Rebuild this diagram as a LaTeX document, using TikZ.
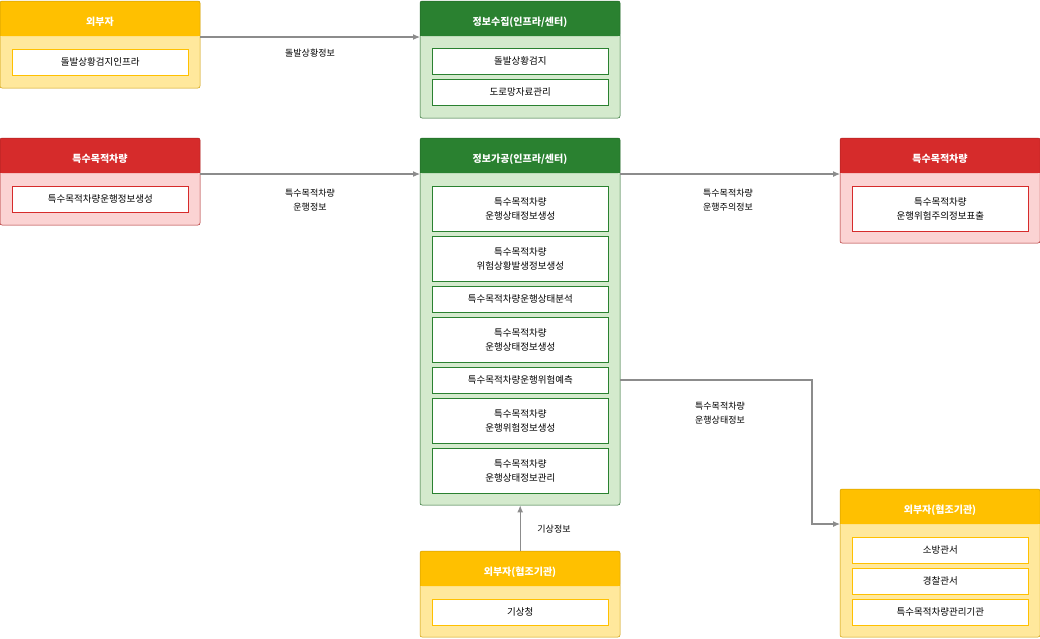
\documentclass[tikz,border=0pt]{standalone}
\usepackage{fontspec}
\setmainfont{Noto Sans CJK KR}
\usetikzlibrary{positioning,arrows.meta}
\definecolor{hdyellow}{HTML}{FFC000}
\definecolor{bdyellow}{HTML}{FFE89C}
\definecolor{hdgreen}{HTML}{2A8130}
\definecolor{bdgreen}{HTML}{D4EACD}
\definecolor{hdred}{HTML}{D62B2B}
\definecolor{bdred}{HTML}{FBD3D3}
\definecolor{linegray}{HTML}{8C8C8C}
\tikzset{
  panel/.style={draw=#1!80!black, line width=0.6pt, rounded corners=2pt, anchor=north west, inner sep=0pt},
  head_cust/.style={anchor=north, text=white, font=\bfseries\fontsize{10}{12}\selectfont},
  item_cust/.style={draw=#1, fill=white, line width=0.6pt, anchor=north west, minimum width=176pt, align=center, inner sep=0pt, font=\fontsize{9.5}{14}\selectfont},
  connect arrow/.style={-{Latex[length=7,width=6]}, linegray, line width=1.1pt},
  lbl/.style={font=\fontsize{9}{14}\selectfont, align=center}
}
% one panel: name, x, y(top), height, header colour, body colour, title
\newcommand{\panelbox}[7]{%
  \fill[#6, rounded corners=2pt] (#2,-#3) rectangle ++(200,-#4);
  \fill[#5, rounded corners=2pt] (#2,-#3) rectangle ++(200,-35);
  \fill[#5] (#2,-#3-20) rectangle ++(200,-15);
  \draw[#5!80!black, rounded corners=2pt, line width=0.5pt] (#2,-#3) rectangle ++(200,-#4);
  \node[minimum width=200pt, minimum height=#4 pt, anchor=north west, inner sep=0pt] (#1) at (#2,-#3) {};
  \node[head_cust, text height=8pt] at (#2+100,-#3-13) {#7};
}
\begin{document}
\begin{tikzpicture}[x=1pt,y=1pt]
\useasboundingbox (0,0) rectangle (1040,-638);

% panels
\panelbox{ext1}{0}{1}{87}{hdyellow}{bdyellow}{외부자}
\panelbox{coll}{420}{1}{117}{hdgreen}{bdgreen}{정보수집(인프라/센터)}
\panelbox{veh1}{0}{138}{87}{hdred}{bdred}{특수목적차량}
\panelbox{proc}{420}{138}{367}{hdgreen}{bdgreen}{정보가공(인프라/센터)}
\panelbox{veh2}{840}{138}{105}{hdred}{bdred}{특수목적차량}
\panelbox{ext2}{420}{551}{86}{hdyellow}{bdyellow}{외부자(협조기관)}
\panelbox{ext3}{840}{489}{148}{hdyellow}{bdyellow}{외부자(협조기관)}

% items
\node[item_cust=hdyellow, minimum height=26pt] (e1a) at (12,-49) {돌발상황검지인프라};
\node[item_cust=hdgreen, minimum height=26pt] (c1) at (432,-48) {돌발상황검지};
\node[item_cust=hdgreen, minimum height=26pt] (c2) at (432,-79) {도로망자료관리};
\node[item_cust=hdred, minimum height=26pt] (v1a) at (12,-186) {특수목적차량운행정보생성};
\node[item_cust=hdgreen, minimum height=45pt] (p1) at (432,-186) {특수목적차량\\운행상태정보생성};
\node[item_cust=hdgreen, minimum height=45pt] (p2) at (432,-236) {특수목적차량\\위험상황발생정보생성};
\node[item_cust=hdgreen, minimum height=26pt] (p3) at (432,-286) {특수목적차량운행상태분석};
\node[item_cust=hdgreen, minimum height=45pt] (p4) at (432,-317) {특수목적차량\\운행상태정보생성};
\node[item_cust=hdgreen, minimum height=26pt] (p5) at (432,-367) {특수목적차량운행위험예측};
\node[item_cust=hdgreen, minimum height=45pt] (p6) at (432,-398) {특수목적차량\\운행위험정보생성};
\node[item_cust=hdgreen, minimum height=45pt] (p7) at (432,-448) {특수목적차량\\운행상태정보관리};
\node[item_cust=hdred, minimum height=45pt] (v2a) at (852,-186) {특수목적차량\\운행위험주의정보표출};
\node[item_cust=hdyellow, minimum height=26pt] (x2a) at (432,-599) {기상청};
\node[item_cust=hdyellow, minimum height=26pt] (x3a) at (852,-537) {소방관서};
\node[item_cust=hdyellow, minimum height=26pt] (x3b) at (852,-568) {경찰관서};
\node[item_cust=hdyellow, minimum height=26pt] (x3c) at (852,-599) {특수목적차량관리기관};

% connectors
\coordinate (bendA) at (812,-380);
\coordinate (bendB) at (812,-524);
\draw[connect arrow] (200,-37) -- (420,-37);
\node[lbl] (l1) at (310,-53) {돌발상황정보};
\draw[connect arrow] (200,-174) -- (420,-174);
\node[lbl] (l2) at (310,-200) {특수목적차량\\운행정보};
\draw[connect arrow] (620,-174) -- (840,-174);
\node[lbl] (l3) at (728,-200) {특수목적차량\\운행주의정보};
\draw[connect arrow] (proc.east |- bendA) -- (bendA) -- (bendB) -- (ext3.west |- bendB);
\node[lbl] (l4) at (720,-413) {특수목적차량\\운행상태정보};
\draw[connect arrow] (ext2.north) -- (proc.south);
\node[lbl] (l5) at (554,-529) {기상정보};
\end{tikzpicture}
\end{document}
